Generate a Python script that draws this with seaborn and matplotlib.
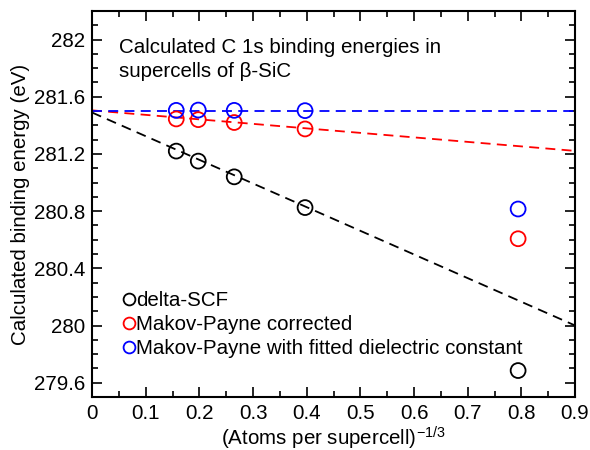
import matplotlib
matplotlib.use("Agg")
import matplotlib.pyplot as plt
import seaborn as sns
import numpy as np
import pandas as pd
from matplotlib.lines import Line2D
from matplotlib.ticker import MultipleLocator

# Data
x_vals = [0.157, 0.198, 0.265, 0.397, 0.794]
delta_scf = [281.22, 281.15, 281.04, 280.825, 279.685]
makov_payne = [281.445, 281.44, 281.42, 281.375, 280.607]
makov_fitted = [281.505, 281.507, 281.505, 281.503, 280.815]
series_names = ["delta-SCF", "Makov-Payne corrected", "Makov-Payne with fitted dielectric constant"]
series_colors = ["black", "red", "blue"]
fit_intercepts = [281.49, 281.505, 281.503]
fit_slopes = [-1.655, -0.315, 0.0]
fit_x = [0.0, 0.9]
xtick_labels = ["0", "0.1", "0.2", "0.3", "0.4", "0.5", "0.6", "0.7", "0.8", "0.9"]
ytick_vals = [279.6, 280.0, 280.4, 280.8, 281.2, 281.6, 282.0]
ytick_labels = ["279.6", "280", "280.4", "280.8", "281.2", "281.6", "282"]

sns.set_style("ticks")
plt.rcParams['font.family'] = ['Liberation Sans', 'DejaVu Sans']
plt.rcParams['mathtext.default'] = 'regular'
plt.rcParams['text.color'] = 'black'
plt.rcParams['axes.labelcolor'] = 'black'
plt.rcParams['xtick.color'] = 'black'
plt.rcParams['ytick.color'] = 'black'

FS = 14.8

fig = plt.figure(figsize=(5.9, 4.5), dpi=100)
ax = fig.add_axes([92/590, 1-397/450, (575-92)/590, (397-11)/450])

series_vals = [delta_scf, makov_payne, makov_fitted]

for b, m, c in zip(fit_intercepts, fit_slopes, series_colors):
    fx = np.array(fit_x)
    df_fit = pd.DataFrame({"x": fx, "y": b + m * fx})
    sns.lineplot(data=df_fit, x="x", y="y", ax=ax, color=c, linestyle=(0, (5.5, 3.5)),
                 linewidth=1.3, legend=False)

for vals, name, c in zip(series_vals, series_names, series_colors):
    df = pd.DataFrame({"x": x_vals, "y": vals})
    sns.scatterplot(data=df, x="x", y="y", ax=ax, marker="o", s=115,
                    facecolor="none", edgecolor=c, linewidth=1.3, legend=False, zorder=3)

ax.set_xlim(0, 0.9)
ax.set_ylim(279.5, 282.2)
ax.set_xticks(np.arange(0, 0.91, 0.1))
ax.set_xticklabels(xtick_labels)
ax.xaxis.set_minor_locator(MultipleLocator(0.05))
ax.set_yticks(ytick_vals)
ax.set_yticklabels(ytick_labels)
ax.yaxis.set_minor_locator(MultipleLocator(0.1))
ax.tick_params(which="both", direction="in", top=True, right=True, width=1.2, colors="black",
               labelsize=FS)
ax.tick_params(which="major", length=7, pad=5)
ax.tick_params(which="minor", length=4)
for s in ax.spines.values():
    s.set_linewidth(1.5)
    s.set_color("black")

ax.set_xlabel("(Atoms per supercell)$^{-1/3}$", fontsize=FS, labelpad=1)
ax.set_ylabel("Calculated binding energy (eV)", fontsize=FS, labelpad=3)

ax.text(0.056, 0.930, "Calculated C 1s binding energies in\nsupercells of β-SiC",
        transform=ax.transAxes, ha="left", va="top", fontsize=FS, linespacing=1.3)

handles = [Line2D([], [], linestyle="none", marker="o", markersize=8.5, markerfacecolor="none",
                  markeredgecolor=c, markeredgewidth=1.3) for c in series_colors]
ax.legend(handles, series_names, loc="lower left", bbox_to_anchor=(0.035, 0.063), frameon=False,
          fontsize=FS, handlelength=0.6, handletextpad=0.0, labelspacing=0.25, borderpad=0.2)

fig.savefig("out.png", dpi=100)
